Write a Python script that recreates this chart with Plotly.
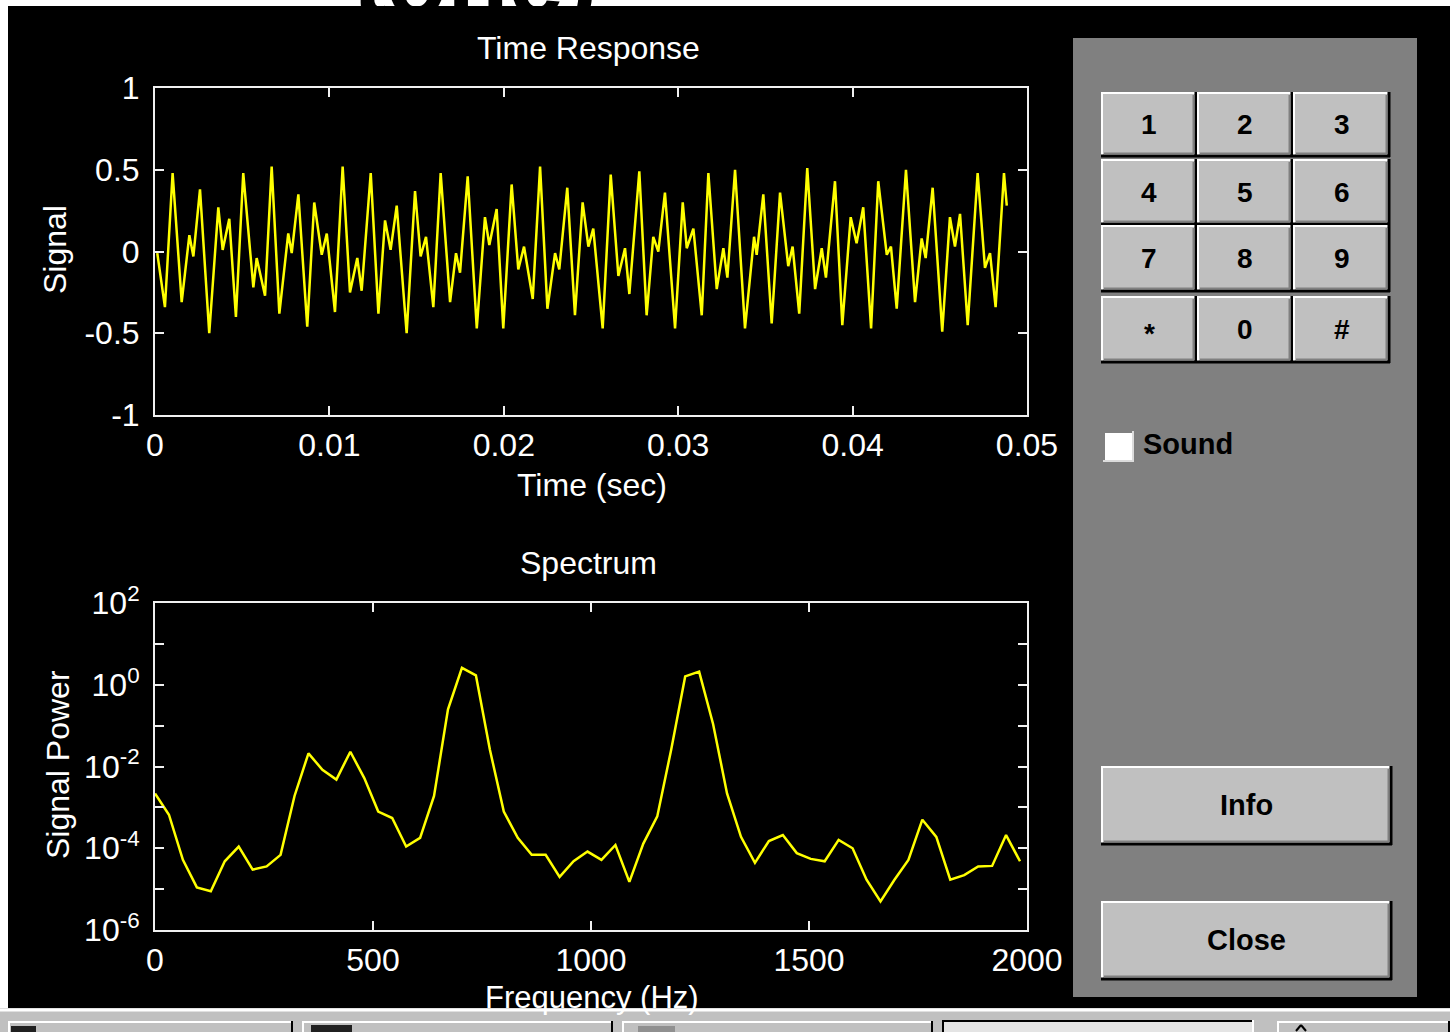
import plotly.graph_objects as go

# ---------------- data ----------------
time_ms = [0.13, 0.57, 1.01, 1.53, 1.97, 2.20, 2.58, 3.11, 3.63, 3.88, 4.26, 4.64, 5.06, 5.64, 5.83,
           6.31, 6.69, 7.13, 7.64, 7.84, 8.22, 8.73, 9.13, 9.56, 9.85, 10.32, 10.76, 11.18, 11.60,
           11.85, 12.37, 12.81, 13.19, 13.51, 13.86, 14.43, 14.91, 15.23, 15.54, 15.96, 16.38,
           16.92, 17.26, 17.49, 17.93, 18.45, 18.92, 19.17, 19.59, 19.97, 20.45, 20.83, 21.16,
           21.66, 22.08, 22.50, 22.94, 23.18, 23.64, 24.08, 24.52, 24.85, 25.13, 25.67, 26.13,
           26.57, 26.95, 27.20, 27.77, 28.19, 28.57, 28.86, 29.24, 29.82, 30.26, 30.49, 30.87,
           31.35, 31.73, 32.21, 32.59, 32.82, 33.26, 33.83, 34.35, 34.50, 34.88, 35.36, 35.84,
           36.31, 36.56, 36.94, 37.40, 37.85, 38.23, 38.47, 38.99, 39.41, 39.89, 40.23, 40.61,
           41.06, 41.47, 41.96, 42.20, 42.53, 43.06, 43.58, 43.96, 44.19, 44.59, 45.14, 45.58,
           45.87, 46.16, 46.60, 47.17, 47.59, 47.88, 48.20, 48.68, 48.84]
signal = [-0.01, -0.34, 0.48, -0.31, 0.10, -0.03, 0.38, -0.50, 0.27, 0.01, 0.20, -0.40, 0.48, -0.22,
          -0.04, -0.27, 0.52, -0.38, 0.11, -0.01, 0.35, -0.46, 0.30, -0.02, 0.11, -0.37, 0.52, -0.25,
          -0.04, -0.24, 0.48, -0.38, 0.19, 0.01, 0.28, -0.50, 0.37, -0.03, 0.09, -0.34, 0.48, -0.31,
          -0.01, -0.13, 0.46, -0.47, 0.21, 0.04, 0.26, -0.47, 0.41, -0.11, 0.03, -0.29, 0.52, -0.35,
          -0.01, -0.11, 0.39, -0.39, 0.30, 0.03, 0.14, -0.47, 0.47, -0.15, 0.02, -0.26, 0.49, -0.39,
          0.09, 0.00, 0.36, -0.47, 0.30, 0.02, 0.14, -0.39, 0.48, -0.23, 0.02, -0.16, 0.50, -0.47,
          0.09, -0.02, 0.35, -0.44, 0.36, -0.09, 0.03, -0.38, 0.51, -0.23, 0.02, -0.16, 0.43, -0.45,
          0.21, 0.05, 0.27, -0.47, 0.43, -0.02, 0.03, -0.35, 0.50, -0.31, 0.08, -0.04, 0.39, -0.49,
          0.21, 0.03, 0.23, -0.45, 0.48, -0.10, -0.01, -0.34, 0.48, 0.28]

freq_hz = [0, 32, 64, 96, 128, 160, 192, 224, 256, 288, 320, 352, 384, 416, 448, 480, 512, 544,
           576, 608, 640, 672, 704, 736, 768, 800, 832, 864, 896, 928, 960, 992, 1024, 1056, 1088,
           1120, 1152, 1184, 1216, 1248, 1280, 1312, 1344, 1376, 1408, 1440, 1472, 1504, 1536,
           1568, 1600, 1632, 1664, 1696, 1728, 1760, 1792, 1824, 1856, 1888, 1920, 1952, 1984]
power = [2.2e-3, 6.6e-4, 5.2e-5, 1.1e-5, 8.9e-6, 4.8e-5, 1.1e-4, 3.0e-5, 3.6e-5, 6.9e-5, 1.9e-3,
         2.1e-2, 8.3e-3, 4.8e-3, 2.3e-2, 5.2e-3, 7.9e-4, 5.5e-4, 1.1e-4, 1.8e-4, 1.9e-3, 0.25, 2.6,
         1.7, 2.6e-2, 7.9e-4, 1.8e-4, 6.9e-5, 6.9e-5, 2.0e-5, 4.8e-5, 8.3e-5, 5.2e-5, 1.2e-4,
         1.5e-5, 1.3e-4, 6.0e-4, 2.6e-2, 1.6, 2.1, 0.11, 2.2e-3, 1.9e-4, 4.4e-5, 1.5e-4, 2.1e-4,
         7.6e-5, 5.5e-5, 4.8e-5, 1.6e-4, 1.0e-4, 1.7e-5, 5.0e-6, 1.7e-5, 5.2e-5, 5.0e-4, 1.9e-4,
         1.7e-5, 2.2e-5, 3.6e-5, 3.7e-5, 2.1e-4, 4.8e-5]

time_tickvals = [0, 0.01, 0.02, 0.03, 0.04, 0.05]
time_ticktext = ["0", "0.01", "0.02", "0.03", "0.04", "0.05"]
signal_tickvals = [-1, -0.5, 0, 0.5, 1]
signal_ticktext = ["-1", "-0.5", "0", "0.5", "1"]
freq_tickvals = [0, 500, 1000, 1500, 2000]
freq_ticktext = ["0", "500", "1000", "1500", "2000"]
power_tickvals = [1e-6, 1e-4, 1e-2, 1e0, 1e2]
power_ticktext = ["10<sup>-6</sup>", "10<sup>-4</sup>", "10<sup>-2</sup>", "10<sup>0</sup>", "10<sup>2</sup>"]
power_minorvals = [1e-5, 1e-3, 1e-1, 1e1]
keypad_labels = [["1", "2", "3"], ["4", "5", "6"], ["7", "8", "9"], ["*", "0", "#"]]
header_text = "tone)"

# ---------------- layout helpers ----------------
W, H = 1450, 1032
FONT = "Liberation Sans, Arial, sans-serif"


def X(px):
    return px / W


def Y(py):
    return 1 - py / H


shapes = []
annotations = []


def rect(x0, y0, x1, y1, fill, layer="above"):
    shapes.append(dict(type="rect", xref="paper", yref="paper", x0=X(x0), y0=Y(y1), x1=X(x1), y1=Y(y0),
                       fillcolor=fill, line=dict(width=0), layer=layer))


def line(x0, y0, x1, y1, color, w=2):
    shapes.append(dict(type="line", xref="paper", yref="paper", x0=X(x0), y0=Y(y0), x1=X(x1), y1=Y(y1),
                       line=dict(color=color, width=w), layer="above"))


def text(s, x, y, size=32, color="white", bold=False, angle=0, xanchor="center", yanchor="middle"):
    annotations.append(dict(text=("<b>%s</b>" % s) if bold else s, x=X(x), y=Y(y), xref="paper", yref="paper",
                            showarrow=False, textangle=angle, xanchor=xanchor, yanchor=yanchor,
                            font=dict(family=FONT, size=size, color=color)))


def bevel(x0, y0, x1, y1, face="#c0c0c0"):
    rect(x0, y0, x1, y1, face)
    line(x0, y0 + 1, x1, y0 + 1, "#ffffff", 2)
    line(x0 + 1, y0, x0 + 1, y1, "#ffffff", 2)
    line(x0, y1 - 1, x1, y1 - 1, "#000000", 3)
    line(x1 - 1, y0, x1 - 1, y1, "#000000", 3)
    line(x0 + 3, y1 - 3.5, x1 - 3, y1 - 3.5, "#808080", 2)
    line(x1 - 3.5, y0 + 3, x1 - 3.5, y1 - 3, "#808080", 2)


# window frame pieces
rect(0, 0, W, 6, "#ffffff", layer="below")
rect(0, 0, 8, 1010, "#ffffff")

# control panel
rect(1073, 38, 1417, 997, "#808080")
cols = [(1101, 1197), (1197, 1293), (1293, 1390)]
rows = [(92, 157), (159, 225), (225, 292), (296, 363)]
for r, (ry0, ry1) in enumerate(rows):
    for c, (cx0, cx1) in enumerate(cols):
        bevel(cx0, ry0, cx1, ry1)
        lab = keypad_labels[r][c]
        text(lab, (cx0 + cx1) / 2, (ry0 + ry1) / 2 + (4 if lab == "*" else 0), size=28, color="black", bold=True)

# Sound checkbox
rect(1103, 431, 1134, 462, "#ffffff")
line(1103, 432, 1134, 432, "#808080", 2)
line(1104, 431, 1104, 462, "#808080", 2)
line(1103, 461, 1134, 461, "#dcdcdc", 2)
line(1133, 431, 1133, 462, "#dcdcdc", 2)
text("Sound", 1141, 444, size=29, color="black", bold=True, xanchor="left")

bevel(1101, 766, 1392, 845)
text("Info", 1246, 805, size=29, color="black", bold=True)
bevel(1101, 901, 1392, 980)
text("Close", 1246, 940, size=29, color="black", bold=True)

# task bar
rect(0, 1008, W, H, "#c0c0c0")
line(0, 1010, W, 1010, "#ffffff", 3)
for (bx0, bx1) in [(8, 293), (302, 613), (622, 933), (1277, W)]:
    line(bx0, 1022, bx1, 1022, "#ffffff", 2)
    line(bx0 + 1, 1021, bx0 + 1, H, "#ffffff", 2)
    line(bx1 - 1, 1021, bx1 - 1, H, "#000000", 2)
rect(942, 1020, 1254, H, "#e4e4e4")
line(942, 1021, 1254, 1021, "#000000", 2)
line(943, 1020, 943, H, "#000000", 2)
line(1253, 1020, 1253, H, "#ffffff", 2)
rect(11, 1026, 36, H, "#202020")
rect(311, 1025, 352, H, "#202020")
rect(638, 1026, 675, H, "#909090")
line(1296, 1031, 1301, 1025, "#000000", 2)
line(1301, 1025, 1306, 1031, "#000000", 2)

# axis titles / plot titles
text("Time Response", 588, 48)
text("Time (sec)", 592, 485)
text("Signal", 55, 250, angle=-90)
text("Spectrum", 588, 563)
text("Frequency (Hz)", 592, 997, size=31)
text("Signal Power", 58, 765, angle=-90)

# ---------------- figure ----------------
fig = go.Figure()
fig.add_trace(go.Scatter(x=[t / 1000.0 for t in time_ms], y=signal, mode="lines",
                         line=dict(color="#ffff00", width=2.5), xaxis="x", yaxis="y",
                         hoverinfo="skip", showlegend=False))
fig.add_trace(go.Scatter(x=freq_hz, y=power, mode="lines",
                         line=dict(color="#ffff00", width=2.5), xaxis="x2", yaxis="y2",
                         hoverinfo="skip", showlegend=False))
# cut-off heading at the very top: only the lower part of the glyphs shows inside the white strip
fig.add_trace(go.Scatter(x=[0.5], y=[2.7], mode="text", text=["<b>%s</b>" % header_text],
                         textposition="middle center", cliponaxis=True,
                         textfont=dict(family=FONT, size=100, color="black"),
                         xaxis="x3", yaxis="y3", hoverinfo="skip", showlegend=False))

axis_common = dict(showgrid=False, zeroline=False, showline=True, linecolor="#f0f0f0", linewidth=2,
                   ticks="inside", ticklen=9, tickwidth=2, tickcolor="#f0f0f0", mirror="ticks",
                   tickfont=dict(family=FONT, size=32, color="white"),
                   fixedrange=True, automargin=False)
hidden = dict(visible=False, fixedrange=True, showgrid=False, zeroline=False, automargin=False)

fig.update_layout(
    template="none",
    width=W, height=H, autosize=False,
    margin=dict(l=0, r=0, t=0, b=0, pad=0, autoexpand=False),
    paper_bgcolor="black", plot_bgcolor="black",
    showlegend=False,
    xaxis=dict(domain=[X(155), X(1027)], range=[0, 0.05], anchor="y", tickmode="array",
               tickvals=time_tickvals, ticktext=time_ticktext, ticklabelstandoff=1, **axis_common),
    yaxis=dict(domain=[Y(415), Y(88)], range=[-1, 1], anchor="x", tickmode="array",
               tickvals=signal_tickvals, ticktext=signal_ticktext, ticklabelstandoff=7, **axis_common),
    xaxis2=dict(domain=[X(155), X(1027)], range=[0, 2000], anchor="y2", tickmode="array",
                tickvals=freq_tickvals, ticktext=freq_ticktext, ticklabelstandoff=1, **axis_common),
    yaxis2=dict(domain=[Y(930), Y(603)], type="log", range=[-6, 2], anchor="x2", tickmode="array",
                tickvals=power_tickvals, ticktext=power_ticktext, ticklabelstandoff=7,
                minor=dict(tickmode="array", tickvals=power_minorvals, ticks="inside", ticklen=9,
                           tickwidth=2, tickcolor="#f0f0f0"),
                **axis_common),
    xaxis3=dict(domain=[X(300), X(650)], range=[0, 1], anchor="y3", **hidden),
    yaxis3=dict(domain=[Y(6), 1], range=[0, 1], anchor="x3", **hidden),
    shapes=shapes,
    annotations=annotations,
)

fig.write_html("out.html", config={"displayModeBar": False, "staticPlot": True},
               post_script="document.body.style.margin='0';document.body.style.overflow='hidden';")
